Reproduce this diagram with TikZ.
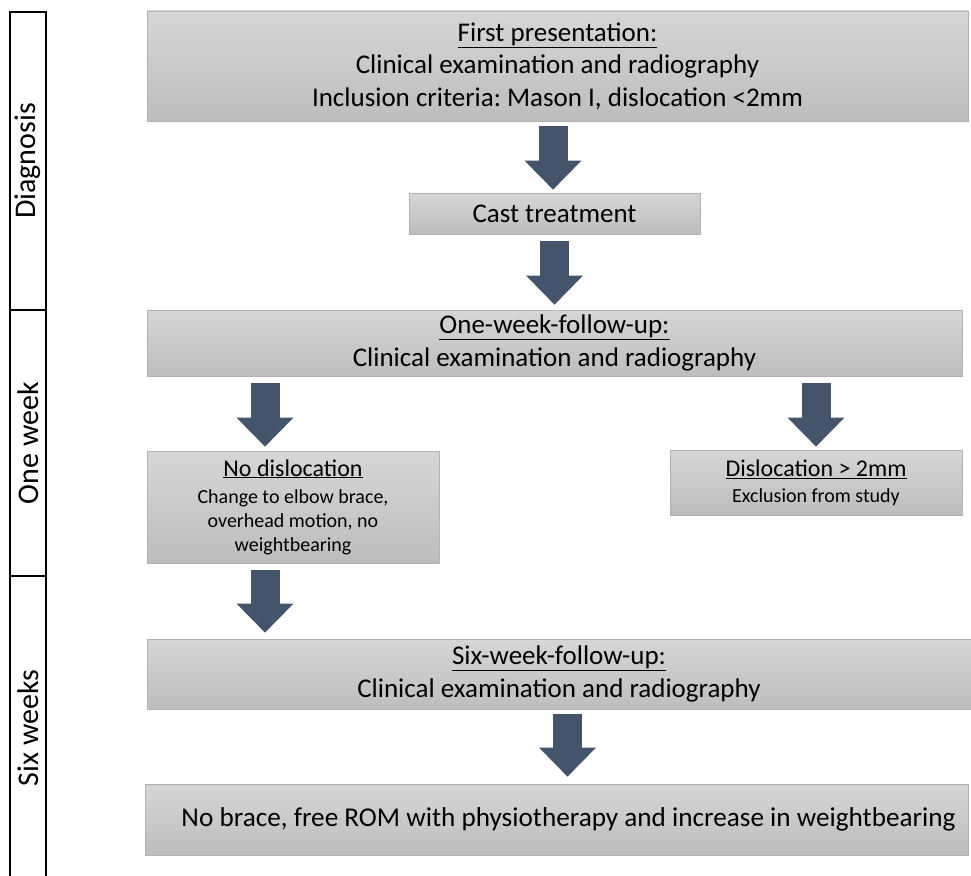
\documentclass[tikz,border=0pt]{standalone}
\usepackage{fontspec}
\setmainfont{Carlito}
\frenchspacing
\usetikzlibrary{arrows.meta,calc}
\definecolor{arrowc}{RGB}{68,84,106}
\definecolor{boxtop}{RGB}{214,214,214}
\definecolor{boxbot}{RGB}{189,189,189}
\definecolor{boxline}{RGB}{178,178,178}
\newcommand{\mainsz}{\fontsize{27}{32.4}\selectfont}
\newcommand{\headsz}{\fontsize{24}{27}\selectfont}
\newcommand{\smallsz}{\fontsize{20}{24}\selectfont}
\newcommand{\lanesz}{\fontsize{30}{36}\selectfont}
\begin{document}
\begin{tikzpicture}[x=1pt,y=-1pt,
  box/.style={draw=boxline, line width=0.8pt, top color=boxtop, bottom color=boxbot,
    align=center, inner sep=0pt, font=\mainsz, text=black},
  blk/.style={draw=arrowc, line width=29pt,
    -{Triangle[width=57pt,length=29pt,line width=0pt,color=arrowc,fill=arrowc]}},
  lane/.style={draw=black, line width=2pt, minimum height=36pt, inner sep=0pt,
    rotate=90, font=\lanesz}
]
\clip (0,0) rectangle (971,875);
\fill[white] (0,0) rectangle (971,875);

% lanes
\node[lane, minimum width=298pt] (ldiag) at (28,161) {Diagnosis};
\node[lane, minimum width=266pt] (lweek) at (28,443) {One week};
\node[lane, minimum width=304pt] (lsix) at (28,728) {Six weeks};

% boxes
\node[box, minimum width=821pt, minimum height=110pt] (b1) at (557.5,66)
  {\underline{First presentation:}\\Clinical examination and radiography\\Inclusion criteria: Mason I, dislocation <2mm};
\node[box, minimum width=291pt, minimum height=41pt] (cast) at (554.5,213.5)
  {Cast treatment};
\node[box, minimum width=815pt, minimum height=66pt] (b3) at (554.5,343)
  {\underline{One-week-follow-up:}\\Clinical examination and radiography};
\node[box, minimum width=292pt, minimum height=112pt, font=\smallsz] (nodis) at (293,507)
  {{\headsz\underline{No dislocation}}\\[3pt]Change to elbow brace,\\overhead motion, no\\weightbearing};
\node[box, minimum width=292pt, minimum height=65pt, font=\smallsz] (dis) at (816,482.5)
  {{\headsz\underline{Dislocation > 2mm}}\\[2pt]Exclusion from study};
\node[box, minimum width=824pt, minimum height=70pt] (six) at (559,674)
  {\underline{Six-week-follow-up:}\\Clinical examination and radiography};
\node[box, minimum width=823pt, minimum height=71pt, font=\fontsize{27.2}{32}\selectfont] (fin) at (556.5,819.5)
  {\hspace*{24pt}No brace, free ROM with physiotherapy and increase in weightbearing};

% block arrows
\draw[blk] ([xshift=-4.5pt,yshift=-5pt]b1.south) -- ([xshift=-1.5pt,yshift=3pt]cast.north);
\draw[blk] ([yshift=-7pt]cast.south) -- ([yshift=5pt]cast.south |- b3.north);
\draw[blk] ([xshift=-28pt,yshift=-7pt]nodis.north |- b3.south) -- ([xshift=-28pt,yshift=4pt]nodis.north);
\draw[blk] ([yshift=-7pt]dis.north |- b3.south) -- ([yshift=3pt]dis.north);
\draw[blk] ([xshift=-28pt,yshift=-7pt]nodis.south) -- ([xshift=-28pt,yshift=6pt]nodis.south |- six.north);
\draw[blk] ([xshift=8.5pt,yshift=-5pt]six.south) -- ([xshift=8.5pt,yshift=7pt]six.south |- fin.north);
\end{tikzpicture}
\end{document}
